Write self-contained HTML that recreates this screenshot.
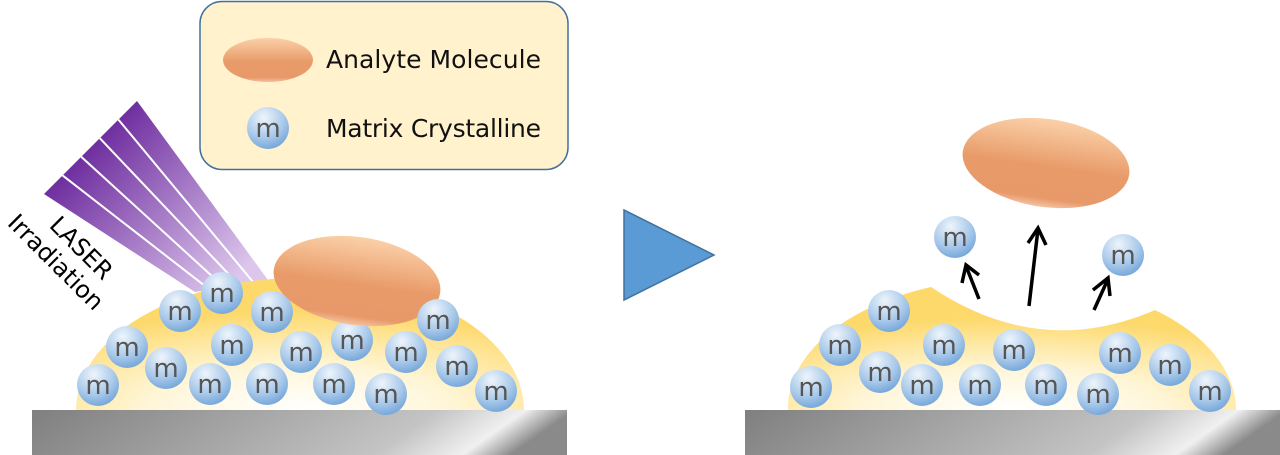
<!DOCTYPE html>
<html><head><meta charset="utf-8"><style>
html,body{margin:0;padding:0;background:#fff;width:1280px;height:455px;overflow:hidden}
svg{display:block}
</style></head><body>
<svg width="1280" height="455" viewBox="0 0 1280 455" xmlns="http://www.w3.org/2000/svg">
<defs>
<radialGradient id="ball" cx="0.4" cy="0.25" r="0.8">
<stop offset="0" stop-color="#eef5fb"/><stop offset="0.6" stop-color="#a9c9ea"/><stop offset="1" stop-color="#6fa3d8"/>
</radialGradient>
<linearGradient id="ana" x1="0" y1="0" x2="0" y2="1">
<stop offset="0" stop-color="#fbd0a8"/><stop offset="0.55" stop-color="#e89a68"/><stop offset="0.9" stop-color="#e8996a"/><stop offset="1" stop-color="#f4c2a0"/>
</linearGradient>
<radialGradient id="dome" cx="0.5" cy="1" r="0.75">
<stop offset="0" stop-color="#ffffff"/><stop offset="0.45" stop-color="#fff6d8"/><stop offset="1" stop-color="#fdd96c"/>
</radialGradient>
<linearGradient id="sub" x1="0" y1="0" x2="1" y2="0.12">
<stop offset="0" stop-color="#7f7f7f"/><stop offset="0.75" stop-color="#c4c4c4"/><stop offset="0.91" stop-color="#f0f0f0"/><stop offset="1" stop-color="#8a8a8a"/>
</linearGradient>
<linearGradient id="beam" x1="90" y1="150" x2="230" y2="285" gradientUnits="userSpaceOnUse">
<stop offset="0" stop-color="#7030a0"/><stop offset="1" stop-color="#dcc6ec"/>
</linearGradient>
<g id="m"><circle r="21" fill="url(#ball)"/><text y="9" text-anchor="middle" font-family="DejaVu Sans, Liberation Sans, sans-serif" font-size="26" fill="#555">m</text></g>
</defs>

<rect x="200" y="1.5" width="368" height="168" rx="22" fill="#fff2cc" stroke="#41719c" stroke-width="1.5"/>
<ellipse cx="268" cy="60" rx="45" ry="22" fill="url(#ana)"/>
<use href="#m" x="268" y="128"/>
<text x="326" y="68" font-family="DejaVu Sans, Liberation Sans, sans-serif" font-size="25" fill="#111" textLength="215">Analyte Molecule</text>
<text x="326" y="137" font-family="DejaVu Sans, Liberation Sans, sans-serif" font-size="25" fill="#111" textLength="215">Matrix Crystalline</text>

<polygon points="44,194 137,101 268,280 195,292" fill="url(#beam)"/>
<g stroke="#fff" stroke-width="2">
<line x1="62.6" y1="175.4" x2="209.6" y2="289.6"/>
<line x1="81.2" y1="156.8" x2="224.2" y2="287.2"/>
<line x1="99.8" y1="138.2" x2="238.8" y2="284.8"/>
<line x1="118.4" y1="119.6" x2="253.4" y2="282.4"/>
</g>
<text transform="translate(60,258) rotate(45)" text-anchor="middle" font-family="DejaVu Sans, Liberation Sans, sans-serif" font-size="24" fill="#000"><tspan x="8" y="-14">LASER</tspan><tspan x="0" y="14">Irradiation</tspan></text>

<path d="M76,410 A224,132 0 0 1 524,410 Z" fill="url(#dome)"/>
<rect x="32" y="410" width="535" height="45" fill="url(#sub)"/>
<g>
<use href="#m" x="222" y="293"/><use href="#m" x="180" y="311"/><use href="#m" x="272" y="312"/>
<use href="#m" x="127" y="347"/><use href="#m" x="232" y="345"/><use href="#m" x="301" y="352"/>
<use href="#m" x="352" y="340"/><use href="#m" x="406" y="352"/>
<use href="#m" x="98" y="385"/><use href="#m" x="166" y="368"/><use href="#m" x="210" y="384"/>
<use href="#m" x="267" y="384"/><use href="#m" x="334" y="384"/><use href="#m" x="386" y="394"/>
<use href="#m" x="457" y="366"/><use href="#m" x="496" y="391"/>
</g>
<ellipse cx="357" cy="281" rx="84" ry="44" transform="rotate(8 357 281)" fill="url(#ana)"/>
<use href="#m" x="438" y="320"/>

<polygon points="624,210 624,300 714,255" fill="#5b9bd5" stroke="#41719c" stroke-width="1.5"/>

<path d="M788,410 A224,130 0 0 1 931,287 Q1040,360 1155,310 A224,130 0 0 1 1236,410 Z" fill="url(#dome)"/>
<rect x="745" y="410" width="535" height="45" fill="url(#sub)"/>
<g>
<use href="#m" x="889" y="311"/><use href="#m" x="840" y="345"/><use href="#m" x="880" y="372"/>
<use href="#m" x="944" y="345"/><use href="#m" x="922" y="385"/><use href="#m" x="980" y="385"/>
<use href="#m" x="1014" y="350"/><use href="#m" x="1046" y="385"/><use href="#m" x="1098" y="394"/>
<use href="#m" x="1120" y="353"/><use href="#m" x="1170" y="365"/><use href="#m" x="1210" y="391"/>
<use href="#m" x="811" y="387"/>
<use href="#m" x="955" y="237"/><use href="#m" x="1123" y="255"/>
</g>
<ellipse cx="1046" cy="163" rx="84" ry="44" transform="rotate(8 1046 163)" fill="url(#ana)"/>
<g stroke="#000" stroke-width="3.5" fill="none" stroke-linecap="butt">
<line x1="979" y1="299" x2="966" y2="266"/><polyline points="962,283 966,265 979,275"/>
<line x1="1029" y1="306" x2="1038" y2="229"/><polyline points="1028,243 1038,228 1046,245"/>
<line x1="1094" y1="310" x2="1108" y2="279"/><polyline points="1093,290 1108,278 1110,296"/>
</g>
</svg>
</body></html>
